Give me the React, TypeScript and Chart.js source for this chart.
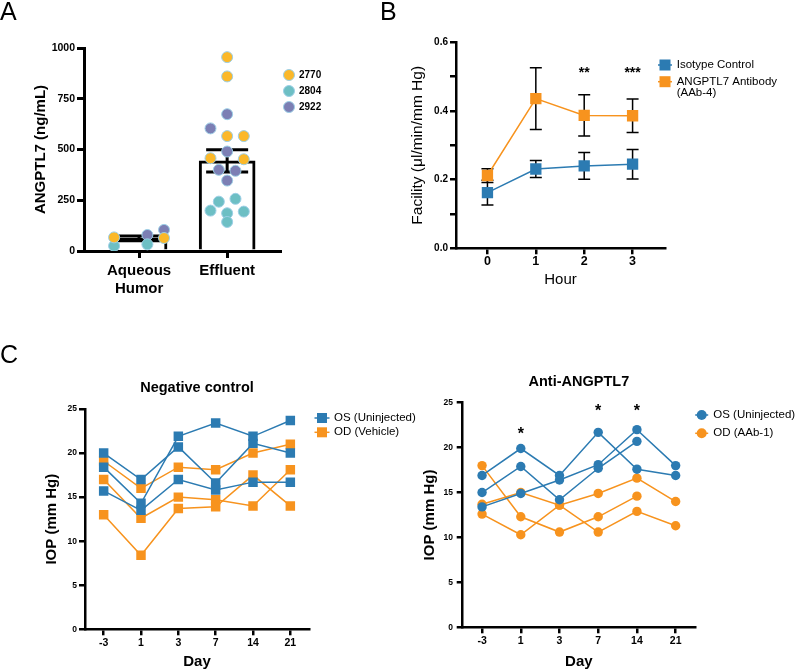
import React, { useEffect, useRef } from "react";
import { Chart, registerables } from "chart.js";

Chart.register(...registerables);

const FONT = '"Liberation Sans", Arial, Helvetica, sans-serif';
Chart.defaults.font.family = FONT;
Chart.defaults.color = "#000";

const BLUE = "#2C7BB2";
const ORANGE = "#F7931E";

// ---------------- Panel A data ----------------
const groupsA = ["Aqueous\nHumor", "Effluent"];
const donorsA = ["2770", "2804", "2922"];
const donorColorsA = ["#FBB829", "#6DBFC4", "#7C7FB4"];
const aqueous2770 = [67, 64];
const aqueous2804 = [25, 33];
const aqueous2922 = [79, 104];
const effluent2770 = [955, 860, 566, 566, 457, 452];
const effluent2804 = [257, 243, 199, 194, 186, 143];
const effluent2922 = [674, 604, 490, 400, 395, 347];
// beeswarm slot of each point (negative = left of centre)
const aqueousSlots2770 = [-3, 3];
const aqueousSlots2804 = [-3, 1];
const aqueousSlots2922 = [1, 3];
const effluentSlots2770 = [0, 0, 0, 2, -2, 2];
const effluentSlots2804 = [1, -1, -2, 2, 0, 0];
const effluentSlots2922 = [0, -2, 0, -1, 1, 0];
const yTicksA = [0, 250, 500, 750, 1000];

// ---------------- Panel B data ----------------
const hoursB = [0, 1, 2, 3];
const isotypeMean = [0.162, 0.231, 0.24, 0.245];
const isotypeSem = [0.036, 0.025, 0.039, 0.043];
const antibodyMean = [0.212, 0.436, 0.387, 0.386];
const antibodySem = [0.02, 0.09, 0.06, 0.049];
const starHoursB = [2, 3];
const starTextB = ["**", "***"];
const starLevelB = [0.524, 0.524];

// ---------------- Panel C data ----------------
const daysC = ["-3", "1", "3", "7", "14", "21"];
const ncOS1 = [20.0, 17.0, 20.7, 16.6, 21.1, 20.0];
const ncOS2 = [18.4, 14.3, 21.9, 23.4, 21.9, 23.7];
const ncOS3 = [15.7, 13.5, 17.0, 15.8, 16.7, 16.7];
const ncOD1 = [19.1, 16.0, 18.4, 18.1, 20.0, 21.0];
const ncOD2 = [17.0, 12.6, 15.0, 14.7, 14.0, 18.1];
const ncOD3 = [13.0, 8.4, 13.7, 13.9, 17.5, 14.0];

const abOS1 = [16.9, 19.9, 16.9, 21.7, 17.6, 16.9];
const abOS2 = [15.0, 17.9, 14.2, 17.7, 20.7, null];
const abOS3 = [13.4, 14.9, 16.4, 18.1, 22.0, 18.0];
const abOD1 = [18.0, 12.3, 10.6, 12.3, 14.6, null];
const abOD2 = [13.7, 15.0, 13.6, 14.9, 16.6, 14.0];
const abOD3 = [12.6, 10.3, 13.6, 10.6, 12.9, 11.3];
const starDaysC = ["1", "7", "14"];
const starLevelC = [21.95, 24.5, 24.5];

// ---------------- helpers ----------------
const mean = (a: number[]) => a.reduce((s, v) => s + v, 0) / a.length;
const sem = (a: number[]) => {
  const m = mean(a);
  const sd = Math.sqrt(a.reduce((s, v) => s + (v - m) * (v - m), 0) / (a.length - 1));
  return sd / Math.sqrt(a.length);
};

type LegendItem = { lines: string[]; color: string; shape: "circle" | "rect"; border?: string };
type Extras = {
  errorBars?: { xs: number[]; means: number[]; sems: number[]; cap: number; width: number; afterIndex?: number };
  legend?: { items: LegendItem[]; markerX: number; textX: number; rows: number[]; font: string; lineGap: number; lineLen: number; size: number };
  title?: { text: string; offset: number; font: string };
  stars?: { xs: any[]; ys: number[]; texts: string[]; font: string; size: number };
};

function makeExtras(ex: Extras) {
  const drawEB = (chart: any) => {
    const eb = ex.errorBars!;
    const { ctx, scales } = chart;
    const xs = scales.x;
    const ys = scales.y;
    ctx.save();
    ctx.strokeStyle = "#000";
    ctx.lineWidth = eb.width;
    for (let i = 0; i < eb.xs.length; i++) {
      const px = xs.getPixelForValue(eb.xs[i]);
      const top = ys.getPixelForValue(eb.means[i] + eb.sems[i]);
      const bot = ys.getPixelForValue(eb.means[i] - eb.sems[i]);
      ctx.beginPath();
      ctx.moveTo(px, top);
      ctx.lineTo(px, bot);
      ctx.moveTo(px - eb.cap, top);
      ctx.lineTo(px + eb.cap, top);
      ctx.moveTo(px - eb.cap, bot);
      ctx.lineTo(px + eb.cap, bot);
      ctx.stroke();
    }
    ctx.restore();
  };
  return {
    id: "extras",
    beforeDatasetsDraw(chart: any) {
      if (ex.errorBars && ex.errorBars.afterIndex === undefined) drawEB(chart);
    },
    afterDatasetDraw(chart: any, args: any) {
      if (ex.errorBars && ex.errorBars.afterIndex === args.index) drawEB(chart);
    },
    afterDraw(chart: any) {
      const { ctx, chartArea } = chart;
      ctx.save();
      if (ex.title) {
        ctx.font = ex.title.font;
        ctx.fillStyle = "#000";
        ctx.textAlign = "center";
        ctx.textBaseline = "middle";
        ctx.fillText(ex.title.text, (chartArea.left + chartArea.right) / 2, chartArea.top - ex.title.offset);
      }
      if (ex.legend) {
        const lg = ex.legend;
        lg.items.forEach((it, i) => {
          const y = chartArea.top + lg.rows[i];
          const mx = chartArea.right + lg.markerX;
          if (lg.lineLen > 0) {
            ctx.strokeStyle = it.color;
            ctx.lineWidth = 1.5;
            ctx.beginPath();
            ctx.moveTo(mx - lg.lineLen / 2, y);
            ctx.lineTo(mx + lg.lineLen / 2, y);
            ctx.stroke();
          }
          ctx.fillStyle = it.color;
          if (it.shape === "circle") {
            ctx.beginPath();
            ctx.arc(mx, y, lg.size, 0, Math.PI * 2);
            ctx.fill();
            if (it.border) {
              ctx.strokeStyle = it.border;
              ctx.lineWidth = 1;
              ctx.stroke();
            }
          } else {
            ctx.fillRect(mx - lg.size, y - lg.size, lg.size * 2, lg.size * 2);
          }
          ctx.fillStyle = "#000";
          ctx.font = lg.font;
          ctx.textAlign = "left";
          ctx.textBaseline = "middle";
          it.lines.forEach((ln, j) => {
            ctx.fillText(ln, chartArea.right + lg.textX, y + j * lg.lineGap);
          });
        });
      }
      if (ex.stars) {
        const st = ex.stars;
        ctx.font = st.font;
        ctx.fillStyle = "#000";
        ctx.textAlign = "center";
        ctx.textBaseline = "alphabetic";
        st.xs.forEach((xv, i) => {
          const px = chart.scales.x.getPixelForValue(xv);
          const py = chart.scales.y.getPixelForValue(st.ys[i]);
          ctx.fillText(st.texts[i], px, py + st.size * 0.58);
        });
      }
      ctx.restore();
    },
  };
}

function axisBase(fontSize: number, tickLength: number, padding: number, width: number) {
  return {
    border: { display: true, color: "#000", width },
    grid: { display: true, offset: false, drawOnChartArea: false, drawTicks: true, tickLength, color: "#000", lineWidth: width },
    ticks: { color: "#000", font: { family: FONT, size: fontSize, weight: "bold" }, padding, autoSkip: false, maxRotation: 0, minRotation: 0 },
  };
}

function ChartCanvas({ left, top, width, height, build }: any) {
  const ref = useRef<HTMLCanvasElement>(null);
  useEffect(() => {
    const chart = new Chart(ref.current as HTMLCanvasElement, build());
    return () => chart.destroy();
  }, []);
  return (
    <canvas
      ref={ref}
      width={width}
      height={height}
      style={{ position: "absolute", left, top, width, height }}
    />
  );
}

// ---------------- Panel A ----------------
function buildA() {
  const slotStep = 0.0945;
  const aq = [aqueous2770, aqueous2804, aqueous2922];
  const ef = [effluent2770, effluent2804, effluent2922];
  const aqS = [aqueousSlots2770, aqueousSlots2804, aqueousSlots2922];
  const efS = [effluentSlots2770, effluentSlots2804, effluentSlots2922];
  const allAq = ([] as number[]).concat(...aq);
  const allEf = ([] as number[]).concat(...ef);
  const means = [mean(allAq), mean(allEf)];
  const sems = [sem(allAq), sem(allEf)];
  const x = axisBase(15, 7, 4, 3) as any;
  const y = axisBase(10.5, 7, 2, 3) as any;
  return {
    type: "bar",
    data: {
      datasets: [
        {
          type: "bar",
          data: means.map((m, i) => ({ x: i, y: m })),
          backgroundColor: "#fff",
          borderColor: "#000",
          borderWidth: 3,
          barThickness: 56,
          order: 2,
        },
        ...donorsA.map((d, k) => ({
          type: "scatter",
          label: d,
          data: [
            ...aq[k].map((v, i) => ({ x: 0 + aqS[k][i] * slotStep, y: v })),
            ...ef[k].map((v, i) => ({ x: 1 + efS[k][i] * slotStep, y: v })),
          ],
          backgroundColor: donorColorsA[k],
          borderColor: "#9CCFE6",
          borderWidth: 1,
          pointRadius: 5.5,
          order: 1,
        })),
      ],
    },
    options: {
      responsive: false,
      animation: false,
      events: [],
      layout: { padding: { left: 0, top: 48, right: 60, bottom: 0 } },
      plugins: { legend: { display: false }, tooltip: { enabled: false } },
      scales: {
        x: {
          ...x,
          type: "linear",
          offset: false,
          min: -0.625,
          max: 1.6,
          afterBuildTicks: (s: any) => {
            s.ticks = groupsA.map((_, i) => ({ value: i }));
          },
          ticks: { ...x.ticks, callback: (_v: any, i: number) => groupsA[i].split("\n") },
          afterFit: (s: any) => {
            s.height = 49;
          },
        },
        y: {
          ...y,
          min: 0,
          max: 1000,
          afterBuildTicks: (s: any) => {
            s.ticks = yTicksA.map((v) => ({ value: v }));
          },
          ticks: { ...y.ticks, callback: (v: any) => String(v) },
          afterFit: (s: any) => {
            s.width = 84;
          },
          title: {
            display: true,
            text: "ANGPTL7 (ng/mL)",
            font: { family: FONT, size: 15, weight: "bold", lineHeight: 1.2 },
            padding: { top: 31.5, bottom: 0 },
          },
        },
      },
    },
    plugins: [
      makeExtras({
        errorBars: { xs: [0, 1], means, sems, cap: 21, width: 3, afterIndex: 0 },
        legend: {
          items: donorsA.map((d, k) => ({ lines: [d], color: donorColorsA[k], shape: "circle" as const, border: "#9CCFE6" })),
          markerX: 9,
          textX: 19,
          rows: [27, 43, 59],
          font: `bold 10px ${FONT}`,
          lineGap: 0,
          lineLen: 0,
          size: 5.5,
        },
      }),
    ],
  };
}

// ---------------- Panel B ----------------
function buildB() {
  const x = axisBase(12.5, 6, 0, 2.5) as any;
  const y = axisBase(10, 6, 2, 2.5) as any;
  const mk = (label: string, m: number[], color: string) => ({
    type: "line",
    label,
    data: hoursB.map((h, i) => ({ x: h, y: m[i] })),
    borderColor: color,
    backgroundColor: color,
    borderWidth: 1.5,
    pointStyle: "rect",
    pointRadius: 8,
    pointBorderWidth: 0,
  });
  return {
    type: "line",
    data: {
      datasets: [mk("Isotype Control", isotypeMean, BLUE), mk("ANGPTL7 Antibody (AAb-4)", antibodyMean, ORANGE)],
    },
    options: {
      responsive: false,
      animation: false,
      events: [],
      layout: { padding: { left: 0, top: 22.3, right: 135, bottom: 0 } },
      plugins: { legend: { display: false }, tooltip: { enabled: false } },
      scales: {
        x: {
          ...x,
          type: "linear",
          min: -0.65,
          max: 3.67,
          afterBuildTicks: (s: any) => {
            s.ticks = hoursB.map((h) => ({ value: h }));
          },
          ticks: { ...x.ticks, callback: (v: any) => String(v) },
          afterFit: (s: any) => {
            s.height = 61.7;
          },
          title: {
            display: true,
            text: "Hour",
            font: { family: FONT, size: 15, weight: "normal", lineHeight: 1.2 },
            padding: { top: 0, bottom: 21 },
          },
        },
        y: {
          ...y,
          min: 0,
          max: 0.6,
          ticks: {
            ...y.ticks,
            stepSize: 0.1,
            callback: (v: any) => (Math.round(v * 10) % 2 === 0 ? Number(v).toFixed(1) : ""),
          },
          afterFit: (s: any) => {
            s.width = 66;
          },
          title: {
            display: true,
            text: "Facility (μl/min/mm Hg)",
            font: { family: FONT, size: 15.5, weight: "normal", lineHeight: 1.2 },
            padding: { top: 18.7, bottom: 0 },
          },
        },
      },
    },
    plugins: [
      makeExtras({
        errorBars: {
          xs: [...hoursB, ...hoursB],
          means: [...isotypeMean, ...antibodyMean],
          sems: [...isotypeSem, ...antibodySem],
          cap: 6,
          width: 1.5,
        },
        legend: {
          items: [
            { lines: ["Isotype Control"], color: BLUE, shape: "rect" },
            { lines: ["ANGPTL7 Antibody", "(AAb-4)"], color: ORANGE, shape: "rect" },
          ],
          markerX: 0,
          textX: 11.7,
          rows: [22.7, 39.4],
          font: `11.5px ${FONT}`,
          lineGap: 11,
          lineLen: 14,
          size: 5.5,
        },
        stars: { xs: starHoursB, ys: starLevelB, texts: starTextB, font: `bold 14px ${FONT}`, size: 14 },
      }),
    ],
  };
}

// ---------------- Panel C ----------------
function buildC(opts: any) {
  const x = axisBase(10.5, 6, opts.xPad, 2.5) as any;
  const y = axisBase(8.5, 6, opts.yPad, 2.5) as any;
  const mk = (label: string, d: (number | null)[], color: string) => ({
    label,
    data: d,
    borderColor: color,
    backgroundColor: color,
    borderWidth: 1.5,
    pointStyle: opts.shape,
    pointRadius: opts.pointRadius,
    pointBorderWidth: 0,
    spanGaps: false,
  });
  return {
    type: "line",
    data: {
      labels: daysC,
      datasets: [
        ...opts.os.map((d: any) => mk(opts.osLabel, d, BLUE)),
        ...opts.od.map((d: any) => mk(opts.odLabel, d, ORANGE)),
      ],
    },
    options: {
      responsive: false,
      animation: false,
      events: [],
      layout: { padding: { left: 0, top: opts.padTop, right: opts.padRight, bottom: 0 } },
      plugins: { legend: { display: false }, tooltip: { enabled: false } },
      scales: {
        x: {
          ...x,
          type: "category",
          offset: true,
          afterFit: (s: any) => {
            s.height = opts.xHeight;
          },
          title: {
            display: true,
            text: "Day",
            font: { family: FONT, size: 15, weight: "bold", lineHeight: 1 },
            padding: { top: 0, bottom: 0 },
          },
        },
        y: {
          ...y,
          min: 0,
          max: 25,
          ticks: { ...y.ticks, stepSize: 5 },
          afterFit: (s: any) => {
            s.width = opts.yWidth;
          },
          title: {
            display: true,
            text: "IOP (mm Hg)",
            font: { family: FONT, size: 15, weight: "bold", lineHeight: 1.2 },
            padding: { top: opts.yTitlePad, bottom: 0 },
          },
        },
      },
    },
    plugins: [
      makeExtras({
        title: { text: opts.title, offset: opts.titleOffset, font: `bold 14.5px ${FONT}` },
        legend: {
          items: [
            { lines: [opts.osLabel], color: BLUE, shape: opts.shape === "circle" ? "circle" : "rect" },
            { lines: [opts.odLabel], color: ORANGE, shape: opts.shape === "circle" ? "circle" : "rect" },
          ],
          markerX: opts.legendMarkerX,
          textX: opts.legendTextX,
          rows: opts.legendRows,
          font: `11.5px ${FONT}`,
          lineGap: 0,
          lineLen: opts.legendLine,
          size: 5,
        },
        stars: opts.stars
          ? { xs: starDaysC.map((d) => daysC.indexOf(d)), ys: starLevelC, texts: starDaysC.map(() => "*"), font: `bold 16px ${FONT}`, size: 16 }
          : undefined,
      }),
    ],
  };
}

const buildCLeft = () =>
  buildC({
    os: [ncOS1, ncOS2, ncOS3],
    od: [ncOD1, ncOD2, ncOD3],
    osLabel: "OS (Uninjected)",
    odLabel: "OD (Vehicle)",
    title: "Negative control",
    shape: "rect",
    pointRadius: 6.7,
    padTop: 44,
    padRight: 131,
    xHeight: 39.7,
    yWidth: 85,
    yTitlePad: 43,
    xPad: 1.5,
    yPad: 2,
    titleOffset: 20.7,
    legendMarkerX: 13,
    legendTextX: 25,
    legendRows: [9, 23.3],
    legendLine: 15,
    stars: false,
  });

const buildCRight = () =>
  buildC({
    os: [abOS1, abOS2, abOS3],
    od: [abOD1, abOD2, abOD3],
    osLabel: "OS (Uninjected)",
    odLabel: "OD (AAb-1)",
    title: "Anti-ANGPTL7",
    shape: "circle",
    pointRadius: 4.7,
    padTop: 37.7,
    padRight: 105,
    xHeight: 41.7,
    yWidth: 62.7,
    yTitlePad: 21,
    xPad: 2,
    yPad: 3.7,
    titleOffset: 20.4,
    legendMarkerX: 6.7,
    legendTextX: 18.3,
    legendRows: [12.3, 30.6],
    legendLine: 13,
    stars: true,
  });

const letterStyle: React.CSSProperties = {
  position: "absolute",
  fontFamily: FONT,
  fontSize: 25,
  lineHeight: "25px",
  color: "#000",
};

export default function App() {
  return (
    <div style={{ position: "absolute", left: 0, top: 0, width: 800, height: 669, background: "#fff", overflow: "hidden" }}>
      <ChartCanvas left={0} top={0} width={340} height={300} build={buildA} />
      <ChartCanvas left={390} top={20} width={410} height={290} build={buildB} />
      <ChartCanvas left={0} top={365} width={440} height={304} build={buildCLeft} />
      <ChartCanvas left={400} top={365} width={400} height={304} build={buildCRight} />
      <div style={{ ...letterStyle, left: 0, top: -1 }}>A</div>
      <div style={{ ...letterStyle, left: 380, top: -1 }}>B</div>
      <div style={{ ...letterStyle, left: 0, top: 342 }}>C</div>
    </div>
  );
}
